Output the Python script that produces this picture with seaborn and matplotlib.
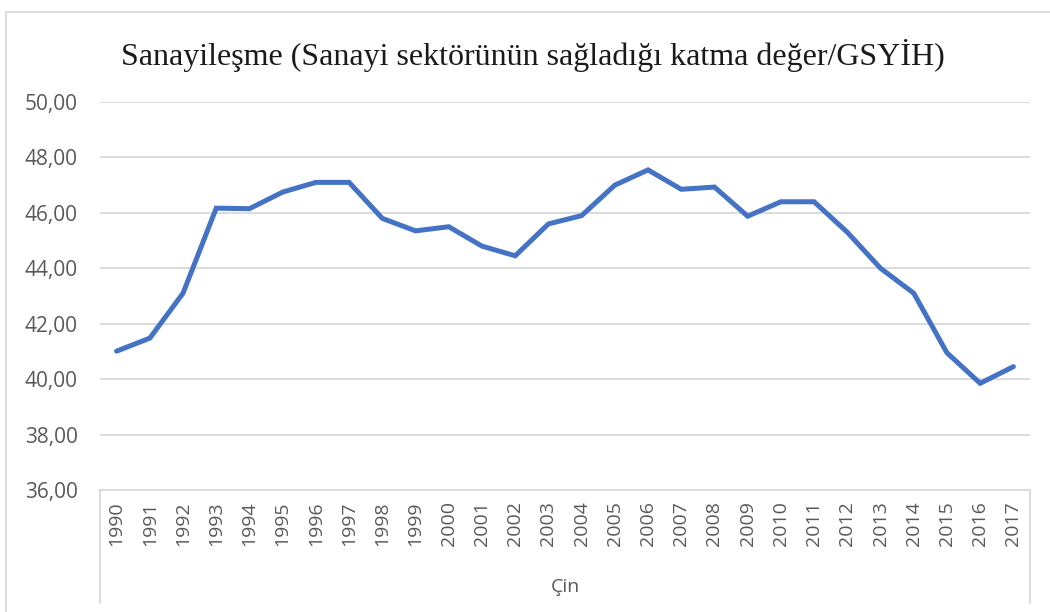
import pandas as pd
import seaborn as sns
import matplotlib.pyplot as plt
from matplotlib.patches import Rectangle

years = list(range(1990, 2018))
values = [41.01, 41.48, 43.10, 46.17, 46.15, 46.75, 47.10, 47.10, 45.80, 45.35,
          45.50, 44.80, 44.45, 45.60, 45.90, 47.00, 47.55, 46.85, 46.93, 45.88,
          46.40, 46.40, 45.30, 44.00, 43.10, 40.95, 39.85, 40.45]
group_label = "Çin"
title = "Sanayileşme (Sanayi sektörünün sağladığı katma değer/GSYİH)"

df = pd.DataFrame({"pos": range(len(years)), "year": years, "value": values})

sns.set_style("white")
plt.rcParams['font.family'] = ['Open Sans', 'DejaVu Sans']

fig = plt.figure(figsize=(10.5, 6.12), dpi=100)
ax = fig.add_axes([100/1050, 1 - 490/612, 930/1050, 388/612])

sns.lineplot(data=df, x="pos", y="value", ax=ax, color="#4472C4", linewidth=3.6,
             solid_joinstyle="miter")

ax.set_xlim(-0.5, len(years) - 0.5)
ax.set_ylim(36, 50)
ax.set_yticks(range(36, 51, 2))
ax.set_yticklabels([f"{v},00" for v in range(36, 51, 2)], color="#595959", fontsize=15)
ax.set_xticks(df["pos"])
ax.set_xticklabels([str(y) for y in years], rotation=90, color="#595959", fontsize=14)
ax.tick_params(axis="both", length=0)
ax.tick_params(axis="x", pad=8)
ax.tick_params(axis="y", pad=16)
ax.grid(axis="y", color="#d9d9d9", linewidth=1.3)
ax.set_axisbelow(True)
for s in ["top", "right", "left"]:
    ax.spines[s].set_visible(False)
ax.spines["bottom"].set_color("#d9d9d9")
ax.spines["bottom"].set_linewidth(1.3)
ax.set_xlabel("")
ax.set_ylabel("")

# category group box below the year labels
for x in [-0.5, len(years) - 0.5]:
    ax.plot([x, x], [0, -0.29], transform=ax.get_xaxis_transform(),
            color="#d9d9d9", linewidth=1.3, clip_on=False)
ax.text((len(years) - 1) / 2, -0.25, group_label, transform=ax.get_xaxis_transform(),
        ha="center", va="center", color="#595959", fontsize=14)

fig.text(533/1050, 1 - 55/612, title, ha="center", va="center",
         fontsize=23, color="#1a1a1a", family=["Liberation Serif", "DejaVu Serif"])

fig.patches.append(Rectangle((6/1050, -0.05), 1.1, 1 - 12/612 + 0.05,
                             transform=fig.transFigure, fill=False,
                             edgecolor="#d9d9d9", linewidth=1.3))

fig.savefig("out.png", dpi=100)
